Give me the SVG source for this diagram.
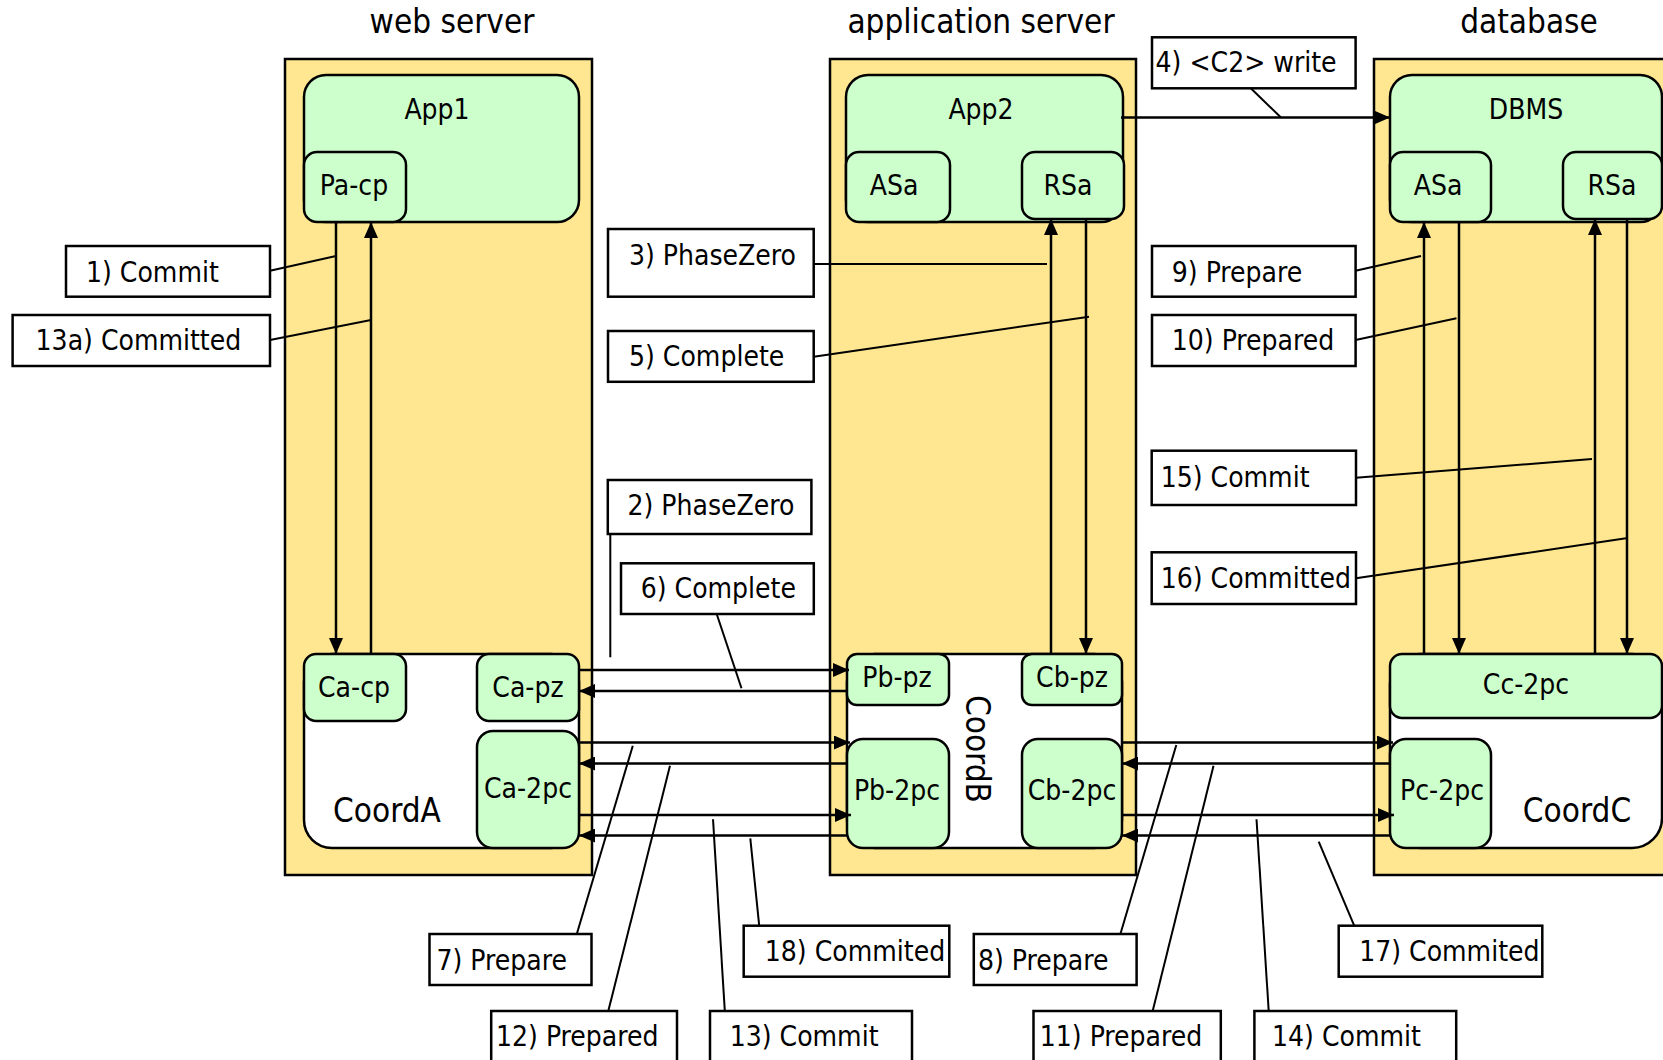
<svg xmlns="http://www.w3.org/2000/svg" width="1663" height="1060" viewBox="0 0 1663 1060">
  <style>
    text { font-family: "DejaVu Sans Condensed", "DejaVu Sans", sans-serif; font-stretch: condensed; fill: #000; }
    .title { font-size: 33px; text-anchor: middle; }
    .coord { font-size: 33px; text-anchor: middle; }
    .name { font-size: 28px; text-anchor: middle; }
    .lbl { font-size: 28px; }
    .host { fill: #FFE791; stroke: #000; stroke-width: 2.5; }
    .comp { fill: #CCFFCC; stroke: #000; stroke-width: 2.5; }
    .coordbox { fill: #FFFFFF; stroke: #000; stroke-width: 2.5; }
    .note { fill: #FFFFFF; stroke: #000; stroke-width: 2.5; }
    .msg { stroke: #000; stroke-width: 2.5; fill: none; marker-end: url(#arrow); }
    .lead { stroke: #000; stroke-width: 2; fill: none; }
  </style>
  <defs>
    <marker id="arrow" markerUnits="userSpaceOnUse" markerWidth="16" markerHeight="14" refX="16" refY="7" orient="auto">
      <path d="M0,0 L16,7 L0,14 Z" fill="#000"/>
    </marker>
  </defs>

  <rect width="1663" height="1060" fill="#FFFFFF"/>

  <!-- host titles -->
  <text class="title" x="452" y="33">web server</text>
  <text class="title" x="981" y="33">application server</text>
  <text class="title" x="1529" y="33">database</text>

  <!-- host containers -->
  <g id="web-server"><rect class="host" x="285" y="59" width="307" height="816"/></g>
  <g id="app-server"><rect class="host" x="830" y="59" width="306" height="816"/></g>
  <g id="database"><rect class="host" x="1374" y="59" width="320" height="816"/></g>

  <!-- web server components -->
  <g id="app1">
    <rect class="comp" x="304" y="75" width="275" height="147" rx="22"/>
    <text class="name" x="437" y="119">App1</text>
  </g>
  <g id="pa-cp">
    <rect class="comp" x="304" y="152" width="102" height="70" rx="13"/>
    <text class="name" x="354" y="195">Pa-cp</text>
  </g>
  <g id="coordA">
    <rect class="coordbox" x="304" y="654" width="275" height="194" rx="28"/>
    <text class="coord" x="387" y="822">CoordA</text>
  </g>
  <g id="ca-cp">
    <rect class="comp" x="304" y="654" width="102" height="67" rx="12"/>
    <text class="name" x="354" y="697">Ca-cp</text>
  </g>
  <g id="ca-pz">
    <rect class="comp" x="477" y="654" width="102" height="67" rx="12"/>
    <text class="name" x="528" y="697">Ca-pz</text>
  </g>
  <g id="ca-2pc">
    <rect class="comp" x="477" y="731" width="102" height="117" rx="16"/>
    <text class="name" x="528" y="798">Ca-2pc</text>
  </g>

  <!-- application server components -->
  <g id="app2">
    <rect class="comp" x="846" y="75" width="277" height="147" rx="22"/>
    <text class="name" x="981" y="119">App2</text>
  </g>
  <g id="asa-app">
    <rect class="comp" x="846" y="152" width="104" height="70" rx="13"/>
    <text class="name" x="894" y="195">ASa</text>
  </g>
  <g id="rsa-app">
    <rect class="comp" x="1022" y="152" width="102" height="67" rx="13"/>
    <text class="name" x="1068" y="195">RSa</text>
  </g>
  <g id="coordB">
    <rect class="coordbox" x="847" y="654" width="275" height="194" rx="28"/>
    <text class="coord" transform="translate(966 749) rotate(90)" x="0" y="0">CoordB</text>
  </g>
  <g id="pb-pz">
    <rect class="comp" x="847" y="654" width="102" height="51" rx="10"/>
    <text class="name" x="897" y="687">Pb-pz</text>
  </g>
  <g id="cb-pz">
    <rect class="comp" x="1022" y="654" width="100" height="51" rx="10"/>
    <text class="name" x="1072" y="687">Cb-pz</text>
  </g>
  <g id="pb-2pc">
    <rect class="comp" x="847" y="739" width="102" height="109" rx="16"/>
    <text class="name" x="897" y="800">Pb-2pc</text>
  </g>
  <g id="cb-2pc">
    <rect class="comp" x="1022" y="739" width="100" height="109" rx="16"/>
    <text class="name" x="1072" y="800">Cb-2pc</text>
  </g>

  <!-- database components -->
  <g id="dbms">
    <rect class="comp" x="1390" y="75" width="272" height="147" rx="22"/>
    <text class="name" x="1526" y="119">DBMS</text>
  </g>
  <g id="asa-db">
    <rect class="comp" x="1390" y="152" width="101" height="70" rx="13"/>
    <text class="name" x="1438" y="195">ASa</text>
  </g>
  <g id="rsa-db">
    <rect class="comp" x="1563" y="152" width="99" height="67" rx="13"/>
    <text class="name" x="1612" y="195">RSa</text>
  </g>
  <g id="coordC">
    <rect class="coordbox" x="1390" y="654" width="272" height="194" rx="30"/>
    <text class="coord" x="1577" y="822">CoordC</text>
  </g>
  <g id="cc-2pc">
    <rect class="comp" x="1390" y="654" width="272" height="64" rx="12"/>
    <text class="name" x="1526" y="694">Cc-2pc</text>
  </g>
  <g id="pc-2pc">
    <rect class="comp" x="1390" y="739" width="101" height="109" rx="16"/>
    <text class="name" x="1442" y="800">Pc-2pc</text>
  </g>

  <!-- message arrows -->
  <g id="connectors">
    <line class="msg" x1="336" y1="222" x2="336" y2="654"/>
    <line class="msg" x1="371" y1="654" x2="371" y2="222"/>
    <line class="msg" x1="1051" y1="654" x2="1051" y2="219"/>
    <line class="msg" x1="1086" y1="219" x2="1086" y2="654"/>
    <line class="msg" x1="1424" y1="654" x2="1424" y2="222"/>
    <line class="msg" x1="1459" y1="222" x2="1459" y2="654"/>
    <line class="msg" x1="1595" y1="654" x2="1595" y2="219"/>
    <line class="msg" x1="1627" y1="219" x2="1627" y2="654"/>
    <line class="msg" x1="1121" y1="117.5" x2="1390" y2="117.5"/>

    <line class="msg" x1="579" y1="670" x2="849" y2="670"/>
    <line class="msg" x1="847" y1="691" x2="579" y2="691"/>
    <line class="msg" x1="579" y1="742.5" x2="850" y2="742.5"/>
    <line class="msg" x1="848" y1="763.5" x2="579" y2="763.5"/>
    <line class="msg" x1="579" y1="815" x2="851" y2="815"/>
    <line class="msg" x1="848" y1="835.5" x2="579" y2="835.5"/>

    <line class="msg" x1="1122" y1="742.5" x2="1393" y2="742.5"/>
    <line class="msg" x1="1391" y1="763.5" x2="1122" y2="763.5"/>
    <line class="msg" x1="1122" y1="815" x2="1394" y2="815"/>
    <line class="msg" x1="1391" y1="835.5" x2="1122" y2="835.5"/>

    <!-- callout leaders -->
    <line class="lead" x1="270" y1="270.7" x2="336" y2="256"/>
    <line class="lead" x1="270" y1="340" x2="371" y2="320"/>
    <line class="lead" x1="813.7" y1="264" x2="1047" y2="264"/>
    <line class="lead" x1="813.7" y1="356.7" x2="1089" y2="316.7"/>
    <line class="lead" x1="1250.8" y1="88.3" x2="1281" y2="117.5"/>
    <line class="lead" x1="1355.6" y1="270.7" x2="1421" y2="256"/>
    <line class="lead" x1="1355.6" y1="340" x2="1456.5" y2="318.3"/>
    <line class="lead" x1="1356" y1="477.7" x2="1592" y2="459"/>
    <line class="lead" x1="1356" y1="578.3" x2="1626" y2="538.3"/>
    <line class="lead" x1="610.3" y1="534" x2="610.3" y2="657.3"/>
    <line class="lead" x1="716.7" y1="614" x2="741.5" y2="688.3"/>
    <line class="lead" x1="576.8" y1="934" x2="632.8" y2="745.7"/>
    <line class="lead" x1="608.3" y1="1011" x2="670" y2="765.7"/>
    <line class="lead" x1="724.8" y1="1011" x2="713" y2="819.3"/>
    <line class="lead" x1="759.2" y1="925.7" x2="750.3" y2="838.3"/>
    <line class="lead" x1="1120.4" y1="934" x2="1176.3" y2="745"/>
    <line class="lead" x1="1152.7" y1="1011" x2="1213.5" y2="765.7"/>
    <line class="lead" x1="1268.7" y1="1011" x2="1256.5" y2="819.3"/>
    <line class="lead" x1="1354.2" y1="925.7" x2="1318.7" y2="841.7"/>
  </g>

  <!-- callout labels -->
  <g id="note-1"><rect class="note" x="66" y="246" width="204" height="50.7"/><text class="lbl" x="86" y="282">1) Commit</text></g>
  <g id="note-13a"><rect class="note" x="12.6" y="315" width="257.4" height="51"/><text class="lbl" x="35.6" y="350">13a) Committed</text></g>
  <g id="note-3"><rect class="note" x="608" y="229" width="205.7" height="67.7"/><text class="lbl" x="629" y="265">3) PhaseZero</text></g>
  <g id="note-5"><rect class="note" x="608" y="331" width="205.7" height="50.8"/><text class="lbl" x="629" y="366">5) Complete</text></g>
  <g id="note-4"><rect class="note" x="1152" y="37.3" width="203.6" height="51"/><text class="lbl" x="1155.6" y="71.7">4) &lt;C2&gt; write</text></g>
  <g id="note-9"><rect class="note" x="1152" y="246" width="203.6" height="50.7"/><text class="lbl" x="1171.8" y="281.7">9) Prepare</text></g>
  <g id="note-10"><rect class="note" x="1152" y="315" width="203.6" height="51"/><text class="lbl" x="1171.8" y="350">10) Prepared</text></g>
  <g id="note-15"><rect class="note" x="1151.7" y="450.7" width="204.3" height="54.3"/><text class="lbl" x="1160.7" y="486.7">15) Commit</text></g>
  <g id="note-16"><rect class="note" x="1151.7" y="552.3" width="204.3" height="51.7"/><text class="lbl" x="1160.7" y="587.7">16) Committed</text></g>
  <g id="note-2"><rect class="note" x="607.8" y="480" width="203.6" height="54"/><text class="lbl" x="627.5" y="515">2) PhaseZero</text></g>
  <g id="note-6"><rect class="note" x="621" y="563.3" width="192.8" height="50.7"/><text class="lbl" x="640.7" y="598.3">6) Complete</text></g>
  <g id="note-7"><rect class="note" x="429.5" y="934" width="162" height="51"/><text class="lbl" x="436.5" y="970">7) Prepare</text></g>
  <g id="note-18"><rect class="note" x="743.7" y="925.7" width="205.6" height="51"/><text class="lbl" x="764.8" y="961">18) Commited</text></g>
  <g id="note-8"><rect class="note" x="973.8" y="934" width="162.8" height="51"/><text class="lbl" x="978" y="970">8) Prepare</text></g>
  <g id="note-17"><rect class="note" x="1338.7" y="925.7" width="203.6" height="51"/><text class="lbl" x="1359.2" y="961">17) Commited</text></g>
  <g id="note-12"><rect class="note" x="491.2" y="1011" width="185.8" height="60"/><text class="lbl" x="496" y="1046">12) Prepared</text></g>
  <g id="note-13"><rect class="note" x="710" y="1011" width="202" height="60"/><text class="lbl" x="729.7" y="1046">13) Commit</text></g>
  <g id="note-11"><rect class="note" x="1033.5" y="1011" width="187.3" height="60"/><text class="lbl" x="1039.8" y="1046">11) Prepared</text></g>
  <g id="note-14"><rect class="note" x="1254.4" y="1011" width="201.8" height="60"/><text class="lbl" x="1272" y="1046">14) Commit</text></g>
</svg>
